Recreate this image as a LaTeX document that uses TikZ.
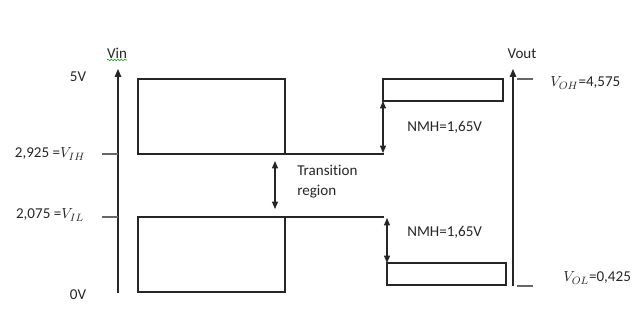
\documentclass[tikz,border=0pt]{standalone}
\usepackage{fontspec}
\setmainfont[Ligatures=NoCommon]{Carlito}
\usetikzlibrary{arrows.meta,decorations.pathmorphing}
\begin{document}
\begin{tikzpicture}[x=0.75pt,y=-0.75pt,
  box/.style={draw=black!85,line width=0.8pt},
  axisline/.style={draw=black!85,line width=0.8pt,-{Triangle[length=6pt,width=5pt]}},
  dimline/.style={draw=black!85,line width=0.8pt,{Triangle[length=5.5pt,width=4.5pt]}-{Triangle[length=5.5pt,width=4.5pt]}},
  tickline/.style={draw=black!60,line width=0.8pt},
  lbl/.style={font=\fontsize{11.3}{13}\selectfont,inner sep=0pt,text=black!85}]
\useasboundingbox (0,0) rectangle (632,335);

% coordinates
\coordinate (vinB) at (118,293); \coordinate (vinT) at (118,69);
\coordinate (voutB) at (513,286); \coordinate (voutT) at (513,69);
\coordinate (ihEnd) at (384,154); \coordinate (ilEnd) at (384,217);
\coordinate (trT) at (275,161); \coordinate (trB) at (275,209);
\coordinate (nmh1T) at (383,101); \coordinate (nmh1B) at (383,153);
\coordinate (nmh2T) at (387,218); \coordinate (nmh2B) at (387,263);

% input boxes
\draw[box] (285,154) -- (138,154) -- (138,79) -- (285,79) -- (285,154) -- (ihEnd);
\draw[box] (ilEnd) -- (138,217) -- (138,292) -- (285,292) -- (285,217);
% output boxes
\draw[box] (383,79) rectangle (503,101);
\draw[box] (387,263) rectangle (506,285);

% axes
\draw[axisline] (vinB) -- (vinT);
\draw[axisline] (voutB) -- (voutT);

% ticks
\draw[tickline] (102,154) -- (118,154);
\draw[tickline] (102,217) -- (118,217);
\draw[tickline] (517,79) -- (533,79);
\draw[tickline] (517,286) -- (533,286);

% dimension arrows
\draw[dimline] (trT) -- (trB);
\draw[dimline] (nmh1T) -- (nmh1B);
\draw[dimline] (nmh2T) -- (nmh2B);

% labels
\node[lbl] (vin) at (117,53) {Vin};
\draw[green!60!black,line width=0.4pt,decorate,decoration={snake,amplitude=0.6pt,segment length=2.5pt}] (107,60) -- (127,60);
\node[lbl] (five) at (78,77) {5V};
\node[lbl] (vih) at (50,154) {2,925 =$V_{IH}$};
\node[lbl] (vil) at (50,215) {2,075 =$V_{IL}$};
\node[lbl] (zero) at (78,295) {0V};
\node[lbl,anchor=west] (tr1) at (297,170) {Transition};
\node[lbl,anchor=west] (tr2) at (297,192) {region};
\node[lbl,anchor=west] (nmh1) at (407,127) {NMH=1,65V};
\node[lbl,anchor=west] (nmh2) at (407,232) {NMH=1,65V};
\node[lbl] (vout) at (522,54) {Vout};
\node[lbl,anchor=west] (voh) at (550,83) {$V_{OH}$=4,575};
\node[lbl,anchor=west] (vol) at (563,278) {$V_{OL}$=0,425};
\end{tikzpicture}
\end{document}
